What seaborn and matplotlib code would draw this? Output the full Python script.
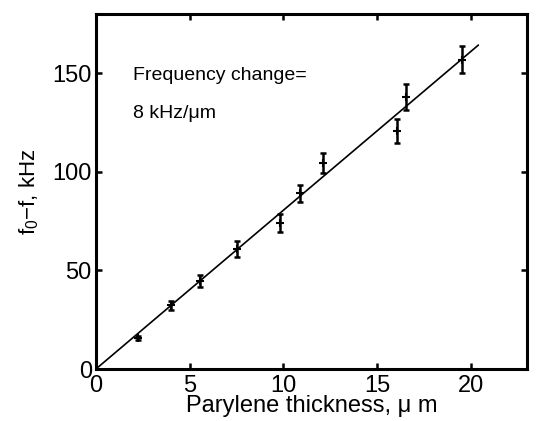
import matplotlib
matplotlib.use("Agg")
import matplotlib.pyplot as plt
import seaborn as sns
import pandas as pd

# values
thickness = [2.27, 4.03, 5.53, 7.52, 9.80, 10.86, 12.10, 16.05, 16.55, 19.50]
freq_shift = [15.7, 32.3, 44.7, 60.9, 74.2, 89.0, 104.6, 120.6, 137.9, 156.8]
freq_err = [1.2, 2.4, 3.2, 3.9, 4.6, 4.4, 5.1, 5.9, 6.4, 7.0]

fit_x = [0.0, 20.4]
fit_y = [0.0, 164.2]

x_ticks = [0, 5, 10, 15, 20]
y_ticks = [0, 50, 100, 150]

sns.set_style("ticks")
plt.rcParams["font.family"] = ["Liberation Sans", "DejaVu Sans"]
plt.rcParams["mathtext.default"] = "regular"
plt.rcParams.update({"text.color": "black", "axes.labelcolor": "black",
                     "xtick.color": "black", "ytick.color": "black",
                     "axes.edgecolor": "black"})

df = pd.DataFrame({"x": thickness, "y": freq_shift, "err": freq_err})

fig = plt.figure(figsize=(5.39, 4.21), dpi=100)
ax = fig.add_axes([0.178, 0.1235, 0.8, 0.8435])

sns.lineplot(x=fit_x, y=fit_y, ax=ax, color="black", linewidth=1.2)
ax.errorbar(df["x"], df["y"], yerr=df["err"], fmt="none", ecolor="black",
            elinewidth=1.8, capsize=2.5, capthick=1.8)
sns.scatterplot(data=df, x="x", y="y", ax=ax, marker="+", s=30, color="black",
                linewidth=1.5)

ax.set_xlim(0, 23)
ax.set_ylim(0, 180)
ax.set_xticks(x_ticks)
ax.set_yticks(y_ticks)
ax.tick_params(direction="in", length=4, width=1.8, top=True, right=True,
               labelsize=17)
ax.tick_params(axis="x", pad=4)
ax.tick_params(axis="y", pad=3)
for s in ax.spines.values():
    s.set_linewidth(2.2)

ax.set_xlabel("Parylene thickness, \u03bc m", fontsize=17, labelpad=-1)
ax.set_ylabel("f$_0$\u2212f, kHz", fontsize=16, labelpad=8)

ax.text(2.0, 149, "Frequency change=", fontsize=14, va="center")
ax.text(2.0, 129.5, "8 kHz/\u03bcm", fontsize=14, va="center")

fig.savefig("out.png", dpi=100)
